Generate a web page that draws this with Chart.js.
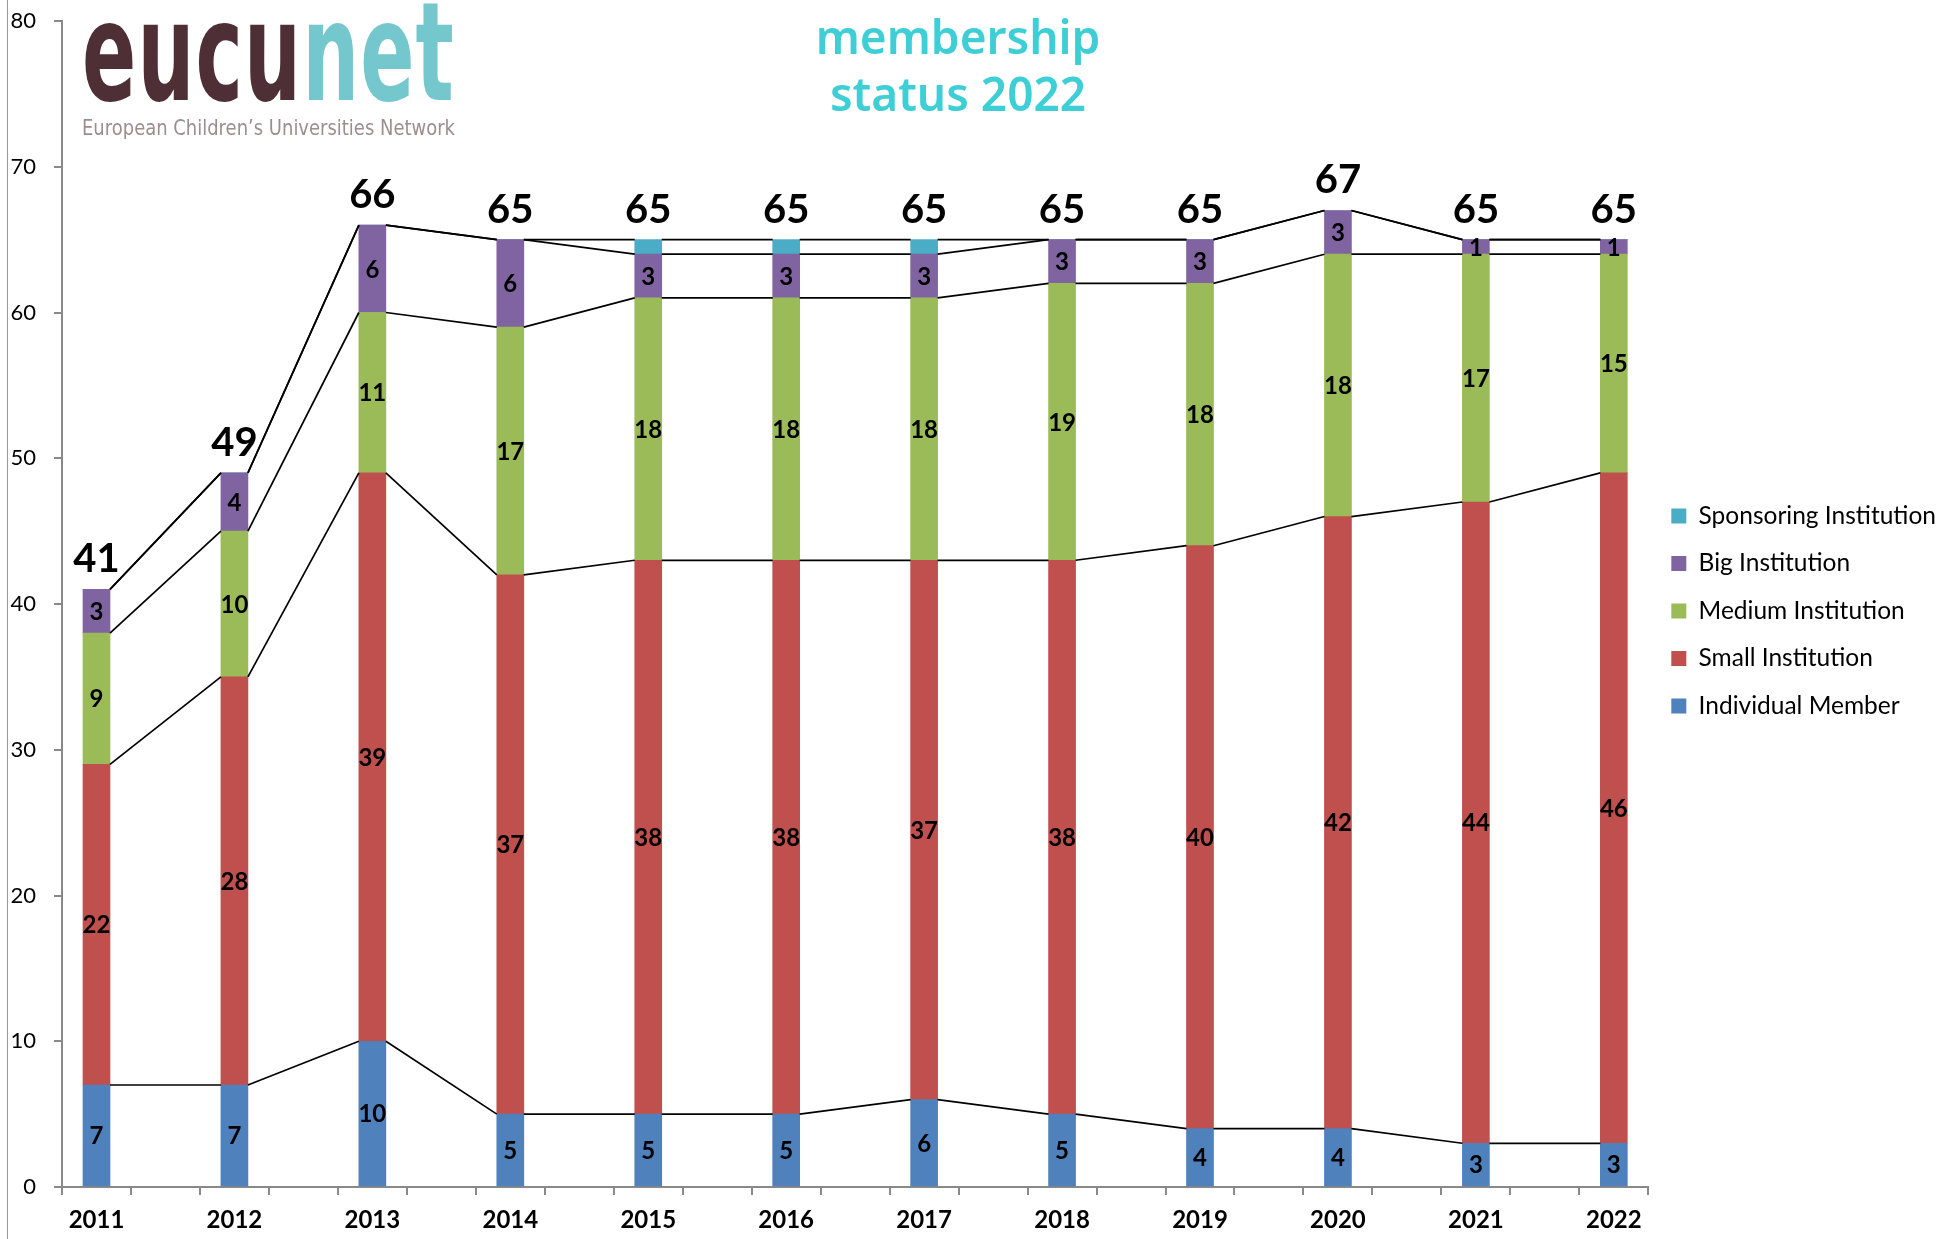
<!DOCTYPE html>
<html>
<head>
<meta charset="utf-8">
<script src="https://cdn.jsdelivr.net/npm/chart.js@4.4.1/dist/chart.umd.min.js"></script>
<style>
  html, body { margin: 0; padding: 0; background: #fff; }
  #wrap { position: relative; width: 1958px; height: 1239px; overflow: hidden; }
  #edge { position: absolute; left: 7px; top: 0; width: 1px; height: 1239px; background: #9a9a9a; }
  .fit { position: absolute; white-space: nowrap; transform-origin: 0 0; }
  #logo { left: 82px; top: -16px; font: bold 137px/137px "DejaVu Sans"; letter-spacing: 2px; }
  #logo .a { color: #4f2f36; }
  #logo .b { color: #74c7cd; }
  #tagline { left: 82px; top: 118px; font: 21px/21px "DejaVu Sans"; color: #9d8c90; }
  #title { position: absolute; left: 708px; top: 8px; width: 500px; text-align: center;
           font: 600 46px/57px "Noto Sans"; color: #3ecfd6; }
</style>
</head>
<body>
<div id="wrap">
  <canvas id="myChart"></canvas>
  <div id="edge"></div>
  <div id="logo" class="fit" data-w="373"><span class="a">eucu</span><span class="b">net</span></div>
  <div id="tagline" class="fit" data-w="373">European Children’s Universities Network</div>
  <div id="title">membership<br>status 2022</div>
</div>
<script>
// Membership data

const years = ["2011", "2012", "2013", "2014", "2015", "2016", "2017", "2018", "2019", "2020", "2021", "2022"];
const individual = [7, 7, 10, 5, 5, 5, 6, 5, 4, 4, 3, 3];
const small = [22, 28, 39, 37, 38, 38, 37, 38, 40, 42, 44, 46];
const medium = [9, 10, 11, 17, 18, 18, 18, 19, 18, 18, 17, 15];
const big = [3, 4, 6, 6, 3, 3, 3, 3, 3, 3, 1, 1];
const sponsoring = [0, 0, 0, 0, 1, 1, 1, 0, 0, 0, 0, 0];
const yMax = 80;
const yStep = 10;

// every year sits in every second slot, the empty slot between holds the series lines
const slots = [];
years.forEach((y, i) => { if (i > 0) slots.push(""); slots.push(y); });

function spread(arr) {
  const out = [];
  arr.forEach((v, i) => { if (i > 0) out.push(null); out.push(v); });
  return out;
}

const series = [
  {label: "Individual Member", data: individual, color: "#4f81bd"},
  {label: "Small Institution", data: small, color: "#c0504d"},
  {label: "Medium Institution", data: medium, color: "#9bbb59"},
  {label: "Big Institution", data: big, color: "#8064a2"},
  {label: "Sponsoring Institution", data: sponsoring, color: "#4bacc6", noLabels: true}
];

// Excel style series lines between the stacked bars
const seriesLines = {
  id: "seriesLines",
  afterDatasetsDraw(chart) {
    const ctx = chart.ctx;
    const yScale = chart.scales.y;
    ctx.save();
    ctx.strokeStyle = "#000";
    ctx.lineWidth = 1.7;
    let cum = years.map(() => 0);
    series.forEach((s, k) => {
      const meta = chart.getDatasetMeta(k);
      cum = cum.map((c, i) => c + s.data[i]);
      for (let i = 0; i < years.length - 1; i++) {
        const a = meta.data[i * 2];
        const b = meta.data[i * 2 + 2];
        ctx.beginPath();
        ctx.moveTo(a.x + a.width / 2, yScale.getPixelForValue(cum[i]));
        ctx.lineTo(b.x - b.width / 2, yScale.getPixelForValue(cum[i + 1]));
        ctx.stroke();
      }
    });
    ctx.restore();
  }
};

// values inside the segments and totals on top
const valueLabels = {
  id: "valueLabels",
  afterDatasetsDraw(chart) {
    const ctx = chart.ctx;
    const yScale = chart.scales.y;
    ctx.save();
    ctx.fillStyle = "#000";
    ctx.textAlign = "center";
    ctx.textBaseline = "middle";
    ctx.font = "bold 24px Lato";
    series.forEach((s, k) => {
      if (s.noLabels) return;
      const meta = chart.getDatasetMeta(k);
      s.data.forEach((v, i) => {
        if (!v) return;
        const bar = meta.data[i * 2];
        ctx.fillText(v, bar.x, (bar.y + bar.base) / 2 + 1);
      });
    });
    ctx.font = "bold 40px Lato";
    ctx.textBaseline = "alphabetic";
    years.forEach((yr, i) => {
      const bar = chart.getDatasetMeta(0).data[i * 2];
      const total = individual[i] + small[i] + medium[i] + big[i] + sponsoring[i];
      ctx.fillText(total, bar.x, yScale.getPixelForValue(total) - 17);
    });
    ctx.restore();
  }
};

const data = {
  labels: slots,
  datasets: series.map(s => ({
    label: s.label,
    data: spread(s.data),
    backgroundColor: s.color,
    borderWidth: 0,
    barThickness: 27
  }))
};

const axisGrey = "#898989";

const config = {
  type: "bar",
  data: data,
  options: {
    responsive: false,
    animation: false,
    events: [],
    layout: {padding: {top: 21, left: 0, right: 12, bottom: 0}},
    plugins: {
      legend: {
        position: "right",
        fullSize: false,
        reverse: true,
        // empty title only nudges the legend block down a little
        title: {display: true, text: " ", font: {size: 10}, padding: {top: 1, bottom: 1}},
        labels: {
          boxWidth: 15,
          boxHeight: 15,
          padding: 23,
          color: "#000",
          font: {family: "Lato", size: 24.5}
        }
      },
      tooltip: {enabled: false}
    },
    scales: {
      x: {
        stacked: true,
        grid: {drawOnChartArea: false, drawTicks: true, tickLength: 8, color: axisGrey, lineWidth: 2},
        border: {color: axisGrey, width: 2},
        ticks: {
          autoSkip: false,
          maxRotation: 0,
          padding: 11,
          color: "#000",
          font: {family: "Lato", size: 24, weight: "bold"}
        },
        afterFit(scale) { scale.height = 52; }
      },
      y: {
        stacked: true,
        min: 0,
        max: yMax,
        grid: {drawOnChartArea: false, drawTicks: true, tickLength: 8, color: axisGrey, lineWidth: 2},
        border: {color: axisGrey, width: 2},
        ticks: {
          stepSize: yStep,
          padding: 18,
          color: "#000",
          font: {family: "Lato", size: 22}
        },
        afterFit(scale) {
          scale.width = 62;
          scale.paddingTop = 12;
          scale.paddingBottom = 12;
        }
      }
    }
  },
  plugins: [seriesLines, valueLabels]
};

const canvas = document.getElementById("myChart");
canvas.width = 1958;
canvas.height = 1239;
const myChart = new Chart(canvas, config);

// squeeze logo text to the logo width
document.querySelectorAll(".fit").forEach(el => {
  const w = el.getBoundingClientRect().width;
  el.style.transform = `scaleX(${el.dataset.w / w})`;
});
</script>
</body>
</html>
